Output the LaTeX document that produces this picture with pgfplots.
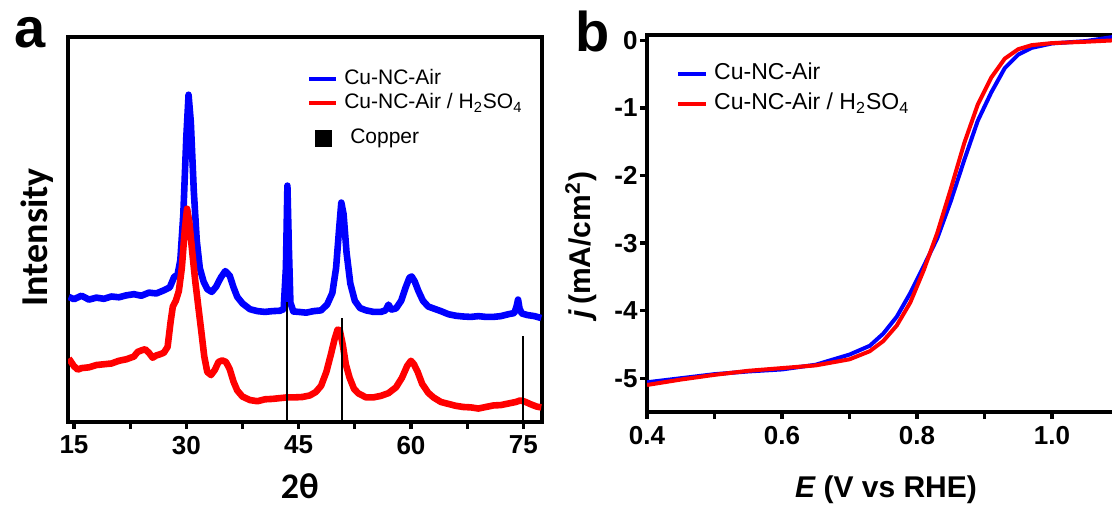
\documentclass[border=0pt]{standalone}
\usepackage{fontspec}
\setmainfont{Liberation Sans}
\newfontfamily\calib{Carlito}
\usepackage{pgfplots}
\pgfplotsset{compat=1.18}
\definecolor{cblue}{RGB}{0,0,255}
\definecolor{cred}{RGB}{255,0,0}
\pgfplotsset{
  legA/.style={legend image code/.code={\draw[##1, line width=2pt] (0pt,0pt) -- (13.5pt,0pt);}},
  legB/.style={legend image code/.code={\draw[##1] (0pt,0pt) -- (14pt,0pt);}},
  legCu/.style={legend image code/.code={\fill[black] (3.5pt,-9.25pt) rectangle (11pt,-1.75pt);}},
}
\begin{document}
\begin{tikzpicture}[x=1pt,y=1pt]
\useasboundingbox (0,0) rectangle (556,252.5);
\clip (0,0) rectangle (556,252.5);
\node[font=\bfseries\fontsize{28}{28}\selectfont] at (15,236) {a};
\node[font=\bfseries\fontsize{28}{28}\selectfont] at (296.5,237) {b};
% ---------------- panel a ----------------
\begin{axis}[
  at={(34pt,41.5pt)}, anchor=south west,
  scale only axis, width=237pt, height=192.5pt,
  xmin=14.2, xmax=77.5, ymin=0, ymax=100,
  axis line style={line width=2pt},
  xtick={15,30,45,60,75}, minor xtick={22.5,37.5,52.5,67.5},
  ytick=\empty,
  xtick pos=bottom, tick align=outside,
  major tick length=3.5pt, minor tick length=3.5pt,
  tick style={black, line width=1.6pt},
  /pgf/number format/assume math mode=true,
  xticklabel style={font=\bfseries\fontsize{13}{13}\selectfont},
  xlabel={\calib\bfseries 2θ},
  xlabel style={font=\fontsize{18}{18}\selectfont, inner sep=0pt, at={(rel axis cs:0.489,-0.168)}, anchor=center},
  ylabel={\calib\bfseries Intensity},
  ylabel style={font=\fontsize{19}{19}\selectfont, at={(rel axis cs:-0.065,0.48)}, anchor=center},
  legend cell align=left,
  legend style={draw=none, fill=none, at={(rel axis cs:0.504,0.918)}, anchor=north west,
    inner sep=0pt, row sep=1.5pt, column sep=3pt,
    font=\fontsize{10.5}{12}\selectfont,
    nodes={inner sep=0pt, text height=8pt, text depth=2.5pt}},
]
\addplot[cblue, line width=3.3pt, line join=round, legA] coordinates {
(14.3,32.5) (15,31.9) (16,32.8) (17,31.8) (18,32.3) (19,32.0) (20,32.6) (21,32.4) (22,32.9) (23,33.2)
(24,32.8) (25,33.6) (26,33.4) (27,34.2) (27.8,35) (28.4,37.8) (28.8,38) (29.2,42) (29.6,54) (30.0,74)
(30.3,85) (30.6,78) (31.0,60) (31.4,47) (31.8,40) (32.3,36.5) (32.8,34.5) (33.4,33.8) (34.0,35.2)
(34.6,37.5) (35.2,39.2) (35.8,38.0) (36.3,35.0) (36.8,32.5) (37.5,30.8) (38.5,29.3) (39.5,28.8)
(40.5,28.6) (41.5,28.8) (42.5,28.9) (43.0,29.3) (43.3,40) (43.5,61.4) (43.7,45) (43.9,31) (44.3,28.7)
(45,28.6) (46,28.4) (47,28.8) (48,29.0) (48.8,30.5) (49.5,33.5) (50.0,40) (50.4,50) (50.7,57) (51.0,54)
(51.4,44) (51.9,36) (52.5,31.5) (53.2,29.6) (54,29.0) (55,28.6) (56,28.6) (56.6,29.0) (57.0,30.5)
(57.4,29.2) (58.0,29.5) (58.7,31.5) (59.3,35) (59.8,37.5) (60.1,37.8) (60.5,36.5) (61.0,34.0)
(61.6,31.5) (62.3,30.0) (63,29.5) (64,28.8) (65,28.0) (66,27.6) (67,27.4) (68,27.3) (69,27.5) (70,27.3)
(71,27.3) (72,27.5) (73,28.0) (73.8,28.3) (74.1,30.0) (74.3,31.8) (74.5,29.5) (74.8,28.2) (75.5,27.8)
(76.5,27.5) (77.4,27.0)};
\addlegendentry{Cu-NC-Air}
\addplot[cred, line width=3.3pt, line join=round, legA] coordinates {
(14.3,16.5) (15,14.5) (15.5,13.6) (16,14.0) (17,14.2) (18,14.8) (19,15.0) (20,15.2) (21,15.9) (22,16.3)
(23,17.0) (23.5,18.2) (24,18.6) (24.5,18.9) (25,18.0) (25.5,16.7) (26,17.3) (26.5,17.6) (27,18.0)
(27.5,19.5) (27.9,26) (28.2,30) (28.6,31.5) (29.0,34) (29.4,40) (29.8,50) (30.1,55.4) (30.4,52)
(30.8,44) (31.2,36.5) (31.6,30) (32.0,23.6) (32.4,17.0) (32.8,13.0) (33.3,12.2) (33.8,13.5) (34.3,15.6)
(34.8,16.0) (35.3,15.6) (35.8,13.7) (36.3,10.5) (36.8,8.2) (37.5,6.6) (38.5,5.7) (39.5,5.4) (40.5,5.9)
(41.5,6.0) (42.5,6.2) (43.5,6.4) (44.5,6.4) (45.5,6.5) (46.5,6.9) (47.3,7.8) (48.0,9.4) (48.7,13)
(49.3,17.5) (49.8,21.5) (50.2,24) (50.5,23.8) (50.9,20) (51.3,15) (51.8,11.5) (52.4,8.6) (53,7.4)
(54,6.4) (55,6.4) (56,6.8) (57,7.5) (58,9.0) (58.8,11.5) (59.5,14.6) (60.0,15.9) (60.4,15.0) (60.9,13.0)
(61.5,9.9) (62.3,7.6) (63,6.4) (64,5.2) (65,4.7) (66,4.2) (67,3.9) (68,3.8) (69,3.5) (70,3.9) (71,4.3)
(72,4.4) (73,4.8) (74,5.2) (74.6,5.6) (75.2,5.3) (76,4.6) (76.8,4.0) (77.4,3.8)};
\addlegendentry{Cu-NC-Air / H\textsubscript{2}SO\textsubscript{4}}
\addplot[black, ycomb, line width=1pt, mark=none, legCu] coordinates {
(43.5,31.3) (50.8,27.0) (74.9,22.3)};
\addlegendentry{\raisebox{-5.5pt}{\hspace{3pt}Copper}}
\end{axis}
% ---------------- panel b ----------------
\begin{axis}[
  at={(323.5pt,46.5pt)}, anchor=south west,
  scale only axis, width=236.25pt, height=188.5pt,
  xmin=0.4, xmax=1.1, ymin=-5.5, ymax=0.08,
  axis line style={line width=2pt},
  xtick={0.4,0.6,0.8,1.0}, xticklabels={0.4,0.6,0.8,1.0},
  minor xtick={0.5,0.7,0.9},
  ytick={-5,-4,-3,-2,-1,0}, yticklabels={-5,-4,-3,-2,-1,0},
  xtick pos=bottom, ytick pos=left, tick align=outside,
  major tick length=3.5pt, minor tick length=3.5pt,
  tick style={black, line width=1.6pt},
  xticklabel style={font=\bfseries\fontsize{13}{13}\selectfont},
  yticklabel style={font=\bfseries\fontsize{13}{13}\selectfont, inner sep=1pt},
  xlabel={\bfseries\itshape E\upshape\ (V vs RHE)},
  xlabel style={font=\fontsize{15}{15}\selectfont, at={(rel axis cs:0.506,-0.207)}, anchor=center},
  ylabel={\bfseries\itshape j\upshape\,(mA/cm\textsuperscript{2})},
  ylabel style={font=\fontsize{15}{15}\selectfont, at={(rel axis cs:-0.140,0.443)}, anchor=center},
  legend cell align=left,
  legend style={draw=none, fill=none, at={(rel axis cs:0.061,0.927)}, anchor=north west,
    inner sep=0pt, row sep=3.5pt, column sep=3pt,
    font=\fontsize{11.5}{13}\selectfont,
    nodes={inner sep=0pt, text height=8.5pt, text depth=3pt}},
]
\addplot[cblue, line width=2pt, line join=round, legB] coordinates {
(0.40,-5.06) (0.45,-5.00) (0.50,-4.94) (0.55,-4.90) (0.60,-4.87) (0.65,-4.80) (0.70,-4.65) (0.73,-4.52)
(0.75,-4.34) (0.77,-4.09) (0.79,-3.74) (0.81,-3.34) (0.83,-2.93) (0.85,-2.38) (0.87,-1.77) (0.89,-1.19)
(0.91,-0.77) (0.93,-0.41) (0.95,-0.21) (0.97,-0.11) (1.00,-0.045) (1.05,-0.01) (1.09,0.05) (1.10,0.06)};
\addlegendentry{Cu-NC-Air}
\addplot[cred, line width=2pt, line join=round, legB] coordinates {
(0.40,-5.10) (0.45,-5.02) (0.50,-4.95) (0.55,-4.89) (0.60,-4.85) (0.65,-4.81) (0.70,-4.72) (0.73,-4.60)
(0.75,-4.45) (0.77,-4.22) (0.79,-3.88) (0.81,-3.40) (0.83,-2.85) (0.85,-2.20) (0.87,-1.52) (0.89,-0.95)
(0.91,-0.55) (0.93,-0.27) (0.95,-0.13) (0.97,-0.07) (1.00,-0.04) (1.05,-0.02) (1.09,0.00) (1.10,0.01)};
\addlegendentry{Cu-NC-Air / H\textsubscript{2}SO\textsubscript{4}}
\end{axis}
\end{tikzpicture}
\end{document}
